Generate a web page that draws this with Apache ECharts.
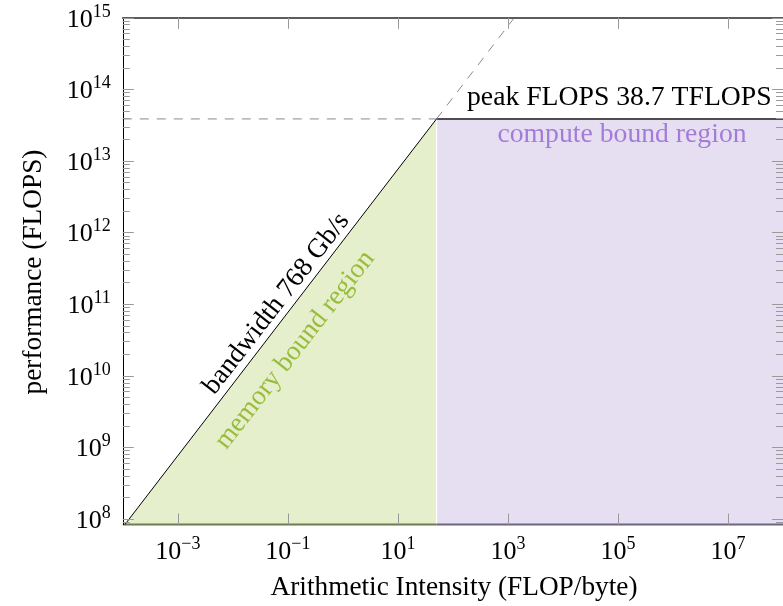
<!DOCTYPE html>
<html>
<head>
<meta charset="utf-8">
<script src="https://cdn.jsdelivr.net/npm/echarts@6/dist/echarts.min.js"></script>
<style>html,body{margin:0;padding:0;background:#fff;}#c{width:783px;height:606px;}</style>
</head>
<body>
<div id="c"></div>
<script>
// ---- data (raw values) ----
const xRange = [1e-4, 1e8];          // Arithmetic Intensity (FLOP/byte)
const yRange = [8.4e7, 1e15];        // performance (FLOPS)
const xTickExps = [-3, -1, 1, 3, 5, 7];
const yTickExps = [8, 9, 10, 11, 12, 13, 14, 15];
// roofline: memory-bound slope (768 Gb/s) and compute ceiling (38.7 TFLOPS)
const bandwidthX = [1.094e-4, 50.4];
const bandwidthY = [8.4e7, 3.87e13];
const bandwidthExtX = [50.4, 1302];
const bandwidthExtY = [3.87e13, 1e15];
const peakDashX = [1e-4, 50.4];
const peakDashY = [3.87e13, 3.87e13];
const peakX = [50.4, 1e8];
const peakY = [3.87e13, 3.87e13];
const memRegionX = [1.094e-4, 50.4, 50.4];
const memRegionY = [8.4e7, 3.87e13, 8.4e7];
const labels = {
  x: 'Arithmetic Intensity (FLOP/byte)',
  y: 'performance (FLOPS)',
  peak: 'peak FLOPS 38.7 TFLOPS',
  bw: 'bandwidth 768 Gb/s',
  mem: 'memory bound region',
  comp: 'compute bound region'
};

// ---- build ----
const L = Math.log10;
const pts = (xs, ys) => xs.map((x, i) => [L(x), L(ys[i])]);
const FONT = 'Liberation Serif';
const minorExps = [];
for (let n = 7; n <= 14; n++) for (let k = 2; k <= 9; k++) {
  const e = n + L(k);
  if (e > L(yRange[0]) && e < L(yRange[1])) minorExps.push(e);
}
const supFmt = v => '{b|10}{s|' + (v < 0 ? '\u2212' + (-v) : v) + '}';
const rich = {
  b: {fontFamily: FONT, fontSize: 26, color: '#000', lineHeight: 30, verticalAlign: 'bottom'},
  s: {fontFamily: FONT, fontSize: 18, color: '#000', lineHeight: 18, verticalAlign: 'top'}
};
const tickStyle = {color: '#9a9a9a', width: 1};
const xBase = {type: 'value', min: L(xRange[0]), max: L(xRange[1]), splitLine: {show: false}, z: 10};
const yBase = {type: 'value', min: L(yRange[0]), max: L(yRange[1]), splitLine: {show: false}, z: 10};

const chart = echarts.init(document.getElementById('c'), null, {renderer: 'canvas'});
const rad = Math.atan2(71.6, 55.55);
const ux = Math.cos(rad), uy = Math.sin(rad);
function txt(text, x, y, size, color, align, rot) {
  return {type: 'text', x: x, y: y, rotation: rot || 0, z: 20,
    style: {text: text, font: size + 'px "Liberation Serif"', fill: color,
      textAlign: align, textVerticalAlign: 'middle', align: align, verticalAlign: 'middle'}};
}
chart.setOption({
  animation: false,
  backgroundColor: '#fff',
  grid: {left: 122.8, top: 17.8, width: 666.6, height: 506.7, containLabel: false},
  xAxis: [
    Object.assign({}, xBase, {position: 'bottom', axisLine: {show: false, onZero: false},
      axisTick: {show: true, inside: true, length: 11, customValues: xTickExps, lineStyle: tickStyle},
      axisLabel: {show: true, margin: 11, customValues: xTickExps, formatter: supFmt, rich: rich}}),
    Object.assign({}, xBase, {position: 'top', axisLine: {show: true, onZero: false, lineStyle: {color: '#5c5c5c', width: 2}},
      axisTick: {show: true, inside: true, length: 11, customValues: xTickExps, lineStyle: tickStyle},
      axisLabel: {show: false}})
  ],
  yAxis: [
    Object.assign({}, yBase, {position: 'left', axisLine: {show: true, onZero: false, lineStyle: {color: '#000', width: 1}},
      axisTick: {show: true, inside: true, length: 11, customValues: yTickExps, lineStyle: tickStyle},
      axisLabel: {show: true, margin: 12, customValues: yTickExps, formatter: supFmt, rich: rich}}),
    Object.assign({}, yBase, {position: 'left', axisLine: {show: false, onZero: false},
      axisTick: {show: true, inside: true, length: 7, customValues: minorExps, lineStyle: tickStyle},
      axisLabel: {show: false}}),
    Object.assign({}, yBase, {position: 'right', axisLine: {show: true, onZero: false, lineStyle: {color: '#000'}},
      axisTick: {show: true, inside: true, length: 11, customValues: yTickExps, lineStyle: tickStyle},
      axisLabel: {show: false}}),
    Object.assign({}, yBase, {position: 'right', axisLine: {show: false, onZero: false},
      axisTick: {show: true, inside: true, length: 7, customValues: minorExps, lineStyle: tickStyle},
      axisLabel: {show: false}})
  ],
  series: [
    {type: 'line', data: pts(memRegionX, memRegionY), symbol: 'none', lineStyle: {width: 0, opacity: 0},
      areaStyle: {color: '#e6efcc', opacity: 1, origin: 'start'}, z: 1},
    {type: 'line', data: pts(peakX, peakY), symbol: 'none', lineStyle: {color: '#4e4e4e', width: 2},
      areaStyle: {color: '#e6dff2', opacity: 1, origin: 'start'}, z: 2},
    {type: 'line', data: pts([peakX[0], peakX[0]], [yRange[0], peakY[0]]), symbol: 'none',
      lineStyle: {color: '#fff', width: 1.2}, z: 3},
    {type: 'line', data: pts([xRange[0], peakX[0]], [yRange[0], yRange[0]]), symbol: 'none', clip: false,
      lineStyle: {color: '#6f7a52', width: 2}, z: 4},
    {type: 'line', data: pts([peakX[0], xRange[1]], [yRange[0], yRange[0]]), symbol: 'none', clip: false,
      lineStyle: {color: '#6c6680', width: 2}, z: 4},
    {type: 'line', data: pts(peakDashX, peakDashY), symbol: 'none',
      lineStyle: {color: '#8a8a8a', width: 1, type: [9, 8]}, z: 5},
    {type: 'line', data: pts(bandwidthExtX, bandwidthExtY), symbol: 'none',
      lineStyle: {color: '#8a8a8a', width: 1, type: [9, 8]}, z: 5},
    {type: 'line', data: pts(bandwidthX, bandwidthY), symbol: 'none',
      lineStyle: {color: '#000', width: 1}, z: 6}
  ],
  graphic: [
    txt(labels.x, 454, 588, 27.3, '#000', 'center'),
    txt(labels.y, 34, 272, 27.3, '#000', 'center', Math.PI / 2),
    txt(labels.peak, 467, 98, 27.7, '#000', 'left'),
    txt(labels.comp, 622, 134.5, 27.7, '#a47bd8', 'center'),
    txt(labels.bw, 289 - 16 * uy, 313.5 - 16 * ux, 27.3, '#000', 'center', rad),
    txt(labels.mem, 295, 350, 27.3, '#98bc3c', 'center', rad)
  ]
});
</script>
</body>
</html>
